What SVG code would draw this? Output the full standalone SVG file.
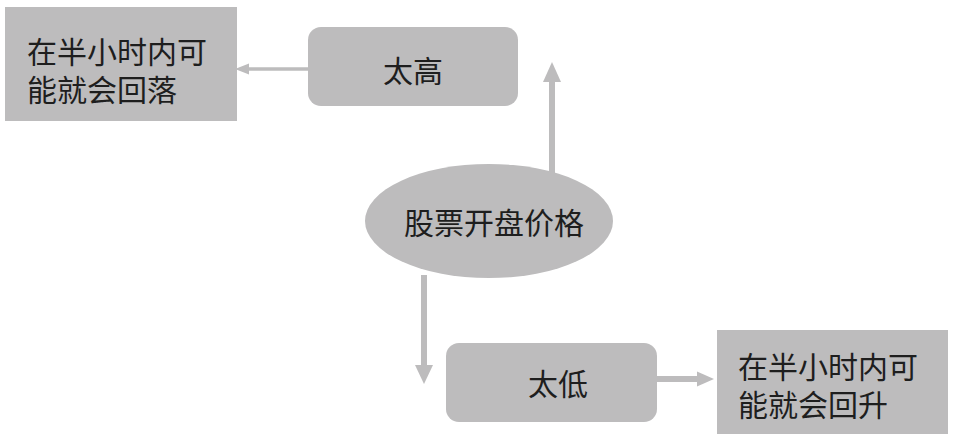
<svg xmlns="http://www.w3.org/2000/svg" width="958" height="440" viewBox="0 0 958 440">
<defs>
<style>
.box{fill:#bdbcbd;}
.t{font-family:"Liberation Sans","Noto Sans CJK SC","Noto Sans CJK JP",sans-serif;font-size:30px;fill:#1e1e1e;dominant-baseline:central;}
.ln{stroke:#bdbcbd;fill:none;}
.hd{fill:#bdbcbd;}
</style>
</defs>
<rect width="958" height="440" fill="#ffffff"/>
<g id="connectors">
<line class="ln" x1="308" y1="69" x2="246" y2="69" stroke-width="3.5"/>
<polygon class="hd" points="235,69 249,63.5 249,74.5"/>
<line class="ln" x1="552" y1="175" x2="552" y2="80" stroke-width="6"/>
<polygon class="hd" points="552,62 543,82 561,82"/>
<line class="ln" x1="424" y1="275" x2="424" y2="367" stroke-width="6"/>
<polygon class="hd" points="424,384 415,365 433,365"/>
<line class="ln" x1="656" y1="379" x2="699" y2="379" stroke-width="6"/>
<polygon class="hd" points="714,379 697,371.5 697,386.5"/>
</g>
<g id="n-fall">
<rect class="box" x="5" y="7" width="232" height="114"/>
<text class="t" x="27" y="52" font-size="31">在半小时内可</text>
<text class="t" x="27" y="90" font-size="31">能就会回落</text>
</g>
<g id="n-high">
<rect class="box" x="308" y="27" width="210" height="79" rx="13"/>
<text class="t" x="413" y="71" text-anchor="middle" font-size="29">太高</text>
</g>
<g id="n-price">
<ellipse class="box" cx="489" cy="221" rx="124" ry="57"/>
<text class="t" x="494" y="223" text-anchor="middle">股票开盘价格</text>
</g>
<g id="n-low">
<rect class="box" x="446" y="343" width="211" height="79" rx="13"/>
<text class="t" x="558" y="384" text-anchor="middle" font-size="29">太低</text>
</g>
<g id="n-rise">
<rect class="box" x="717" y="330" width="231" height="104"/>
<text class="t" x="738" y="367" font-size="31">在半小时内可</text>
<text class="t" x="738" y="405" font-size="31">能就会回升</text>
</g>
</svg>
